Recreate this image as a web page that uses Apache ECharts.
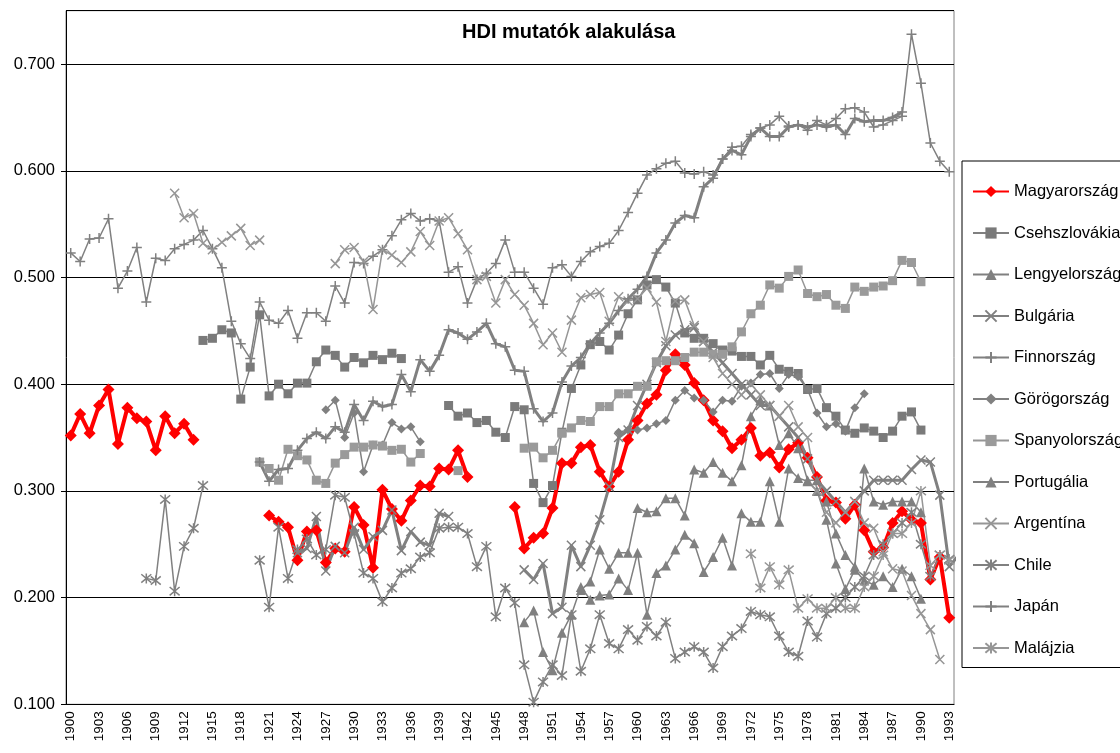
<!DOCTYPE html>
<html>
<head>
<meta charset="utf-8">
<script src="https://cdn.jsdelivr.net/npm/echarts@6/dist/echarts.min.js"></script>
<style>
  html, body { margin: 0; padding: 0; background: #fff; }
  #chart { width: 1120px; height: 753px; }
</style>
</head>
<body>
<div id="chart"></div>
<script>
// Years on the category axis
const years = [];
for (let y = 1900; y <= 1993; y++) years.push(String(y));

// Place a run of yearly values starting at a given year (null = no data)
function fromYear(start, vals) {
  const a = new Array(years.length).fill(null);
  vals.forEach((v, i) => { a[start - 1900 + i] = v; });
  return a;
}
const N = null;

const magyarorszag = fromYear(1900, [
  0.352,0.372,0.354,0.380,0.395,0.344,0.378,0.368,0.365,0.338,0.370,0.354,0.363,0.348,
  N,N,N,N,N,N,N,
  0.277,0.271,0.266,0.235,0.262,0.263,0.233,0.246,0.243,0.285,0.268,0.228,0.301,0.283,0.272,0.291,0.305,0.304,0.321,0.320,0.338,0.313,
  N,N,N,N,
  0.285,0.246,0.256,0.260,0.284,0.326,0.326,0.341,0.343,0.318,0.304,0.318,0.348,0.366,0.382,0.390,0.413,0.428,0.418,0.401,
  0.385,0.366,0.356,0.340,0.348,0.359,0.333,0.336,0.322,0.339,0.345,0.331,0.313,0.291,0.289,0.274,0.287,0.263,0.243,0.247,
  0.270,0.281,0.273,0.270,0.217,0.238,0.181
]);

const csehszlovakia = fromYear(1914, [
  0.441,0.443,0.451,0.448,0.386,0.416,0.465,0.389,0.400,0.391,0.401,0.401,0.421,0.432,0.427,0.416,0.425,0.420,0.427,0.423,0.429,0.424,
  N,N,N,N,
  0.380,0.370,0.373,0.364,0.366,0.355,0.350,0.379,0.376,0.307,0.289,0.305,
  0.355,0.396,0.418,0.437,0.440,0.432,0.446,0.466,0.479,0.493,0.498,0.491,0.476,0.448,0.443,0.443,0.438,0.432,0.431,0.426,
  0.426,0.418,0.427,0.414,0.412,0.410,0.395,0.396,0.378,0.370,0.357,0.354,0.359,0.356,0.350,0.356,0.370,0.374,0.357
]);

const lengyelorszag = fromYear(1954, [
  0.207,0.215,0.245,0.227,0.242,0.242,0.284,0.280,0.281,0.293,0.293,0.277,0.320,0.317,0.327,0.317,0.309,0.324,
  0.370,0.385,0.380,0.343,0.354,0.340,0.310,0.310,0.290,0.260,0.240,0.229,0.321,0.290,0.287,0.290,0.290,0.290,0.280
]);

const bulgaria = fromYear(1924, [
  0.242,0.246,0.276,0.225,0.248,0.242,0.266,0.245,0.257,0.263,0.282,0.244,0.262,0.252,0.249,0.279,0.276,
  N,N,N,N,N,N,N,
  0.226,0.217,0.232,0.185,0.191,0.249,0.229,0.249,0.273,0.304,0.350,0.357,0.380,0.400,0.420,0.436,0.446,0.451,0.453,0.440,
  0.430,0.420,0.410,0.400,0.390,0.380,0.380,0.370,0.360,0.350,0.330,0.310,0.300,0.290,0.280,0.290,0.300,0.310,0.310,0.310,
  0.310,0.320,0.329,0.327,0.296,0.229,0.240,0.232
]);

const finnorszag = fromYear(1900, [
  0.523,0.515,0.536,0.537,0.555,0.490,0.506,0.528,0.477,0.518,0.516,0.527,0.531,0.535,0.544,0.527,0.509,0.459,0.438,0.424,
  0.477,0.460,0.457,0.469,0.443,0.467,0.467,0.459,0.492,0.476,0.514,0.513,0.520,0.526,0.539,0.554,0.560,0.553,0.555,0.553,
  0.505,0.510,0.476,0.498,0.504,0.513,0.535,0.505,0.505,0.490,0.475,0.509,0.512,0.501,0.515,0.524,0.529,0.532,0.544,0.561,
  0.579,0.596,0.602,0.607,0.609,0.598,0.597,0.599,0.596,0.611,0.622,0.623,0.634,0.640,0.643,0.651,0.642,0.643,0.638,0.647,
  0.643,0.649,0.658,0.659,0.655,0.641,0.643,0.647,0.651,0.728,0.682,0.626,0.609,0.599
]);

const gorogorszag = fromYear(1927, [
  0.376,0.385,0.350,0.373,0.318,0.343,0.343,0.364,0.358,0.360,0.346,
  N,N,N,N,N,N,N,N,N,N,N,N,N,N,N,N,N,N,N,N,
  0.355,0.357,0.357,0.359,0.363,0.366,0.385,0.394,0.387,0.385,0.374,0.385,0.384,0.398,0.401,0.409,0.410,0.396,0.409,0.407,
  0.395,0.373,0.360,0.363,0.356,0.378,0.391
]);

const spanyolorszag = fromYear(1920, [
  0.327,0.321,0.310,0.339,0.333,0.329,0.310,0.307,0.326,0.334,0.341,0.341,0.343,0.342,0.338,0.339,0.327,0.335,
  N,N,N,0.319,N,N,N,N,N,N,
  0.340,0.341,0.331,0.338,0.354,0.359,0.366,0.365,0.379,0.379,0.391,0.391,0.398,0.398,0.421,0.422,0.422,0.425,0.430,0.430,
  0.428,0.428,0.435,0.449,0.466,0.474,0.493,0.490,0.501,0.507,0.485,0.482,0.484,0.474,0.471,0.491,0.487,0.491,0.492,0.497,
  0.516,0.514,0.496
]);

const portugalia = fromYear(1948, [
  0.177,0.188,0.149,0.132,0.167,0.184,0.210,0.198,0.202,0.203,0.218,0.207,0.242,0.184,0.223,0.230,0.245,0.259,0.251,0.224,
  0.238,0.256,0.230,0.279,0.271,0.271,0.309,0.271,0.321,0.312,0.309,0.300,0.273,0.232,0.208,0.226,0.216,0.212,0.220,0.210,
  0.227,0.220,0.199
]);

const argentina = fromYear(1911, [
  0.579,0.556,0.560,0.532,0.526,0.533,0.539,0.546,0.530,0.535,
  N,N,N,N,N,N,N,
  0.513,0.526,0.528,0.515,0.470,0.526,0.521,0.514,0.524,0.543,0.530,0.553,0.556,0.541,0.526,0.498,0.501,0.476,0.498,0.484,0.474,
  0.457,0.437,0.448,0.430,0.460,0.481,0.484,0.486,0.459,0.482,0.478,0.480,0.490,0.477,0.440,0.478,0.479,0.455,0.440,0.425,
  0.410,0.400,0.390,0.400,0.390,0.380,0.370,0.380,0.360,0.350,0.300,0.280,0.270,0.280,0.290,0.270,0.265,0.243,0.227,0.225,
  0.202,0.185,0.170,0.142
]);

const chile = fromYear(1908, [
  0.218,0.216,0.292,0.206,0.248,0.265,0.305,
  N,N,N,N,N,
  0.235,0.191,0.266,0.218,0.245,0.255,0.240,0.245,0.296,0.294,0.260,0.223,0.218,0.196,0.209,0.223,0.227,0.238,0.242,0.265,
  0.266,0.266,0.260,0.229,0.248,0.182,0.209,0.195,0.137,0.102,0.121,0.137,0.127,0.184,0.131,0.152,0.184,0.157,0.152,0.170,
  0.160,0.173,0.164,0.177,0.143,0.149,0.154,0.149,0.134,0.154,0.164,0.171,0.187,0.184,0.182,0.164,0.149,0.145,0.178,0.163,
  0.185,0.190,0.200,0.210,0.220,0.240,0.250,0.260,0.270,0.280,0.250,0.220,0.240,0.236
]);

const japan = fromYear(1920, [
  0.327,0.309,0.320,0.321,0.338,0.349,0.355,0.349,0.360,0.355,0.381,0.366,0.384,0.379,0.381,0.409,0.393,0.423,0.412,0.427,
  0.451,0.448,0.442,0.449,0.457,0.438,0.435,0.413,0.412,0.377,0.365,0.373,0.402,0.417,0.425,0.438,0.448,0.457,0.469,0.480,
  0.489,0.501,0.523,0.535,0.551,0.558,0.556,0.585,0.593,0.611,0.619,0.615,0.632,0.640,0.632,0.632,0.641,0.643,0.641,0.643,
  0.641,0.643,0.634,0.649,0.646,0.647,0.647,0.650,0.655
]);

const malajzia = fromYear(1972, [
  0.241,0.209,0.229,0.212,0.226,0.190,0.199,0.190,0.190,0.200,0.190,0.190,0.210,0.220,0.240,0.260,0.260,0.270,0.300,0.230,
  0.240,0.235
]);

const yTicks = { min: 0.1, max: 0.75, step: 0.1 };

const GRAY = '#808080';
const LIGHT = '#969696';
const PLUS = 'path://M5,0V10M0,5H10';
const CROSS = 'path://M0,0L10,10M10,0L0,10';
const STAR = 'path://M0,0L10,10M10,0L0,10M5,-1V11';

function filled(name, data, symbol, size, color, width, markColor) {
  return {
    name, type: 'line', data, symbol, symbolSize: size, showAllSymbol: true,
    lineStyle: { color, width },
    itemStyle: { color: markColor || color, borderWidth: 0 },
    connectNulls: false, animation: false
  };
}
function stroked(name, data, symbol, size, color, width, markWidth) {
  return {
    name, type: 'line', data, symbol, symbolSize: size, showAllSymbol: true,
    lineStyle: { color, width },
    itemStyle: { color: 'none', borderColor: color, borderWidth: markWidth },
    connectNulls: false, animation: false
  };
}

const series = [
  filled('Magyarország', magyarorszag, 'diamond', 12, '#ff0000', 4),
  filled('Csehszlovákia', csehszlovakia, 'rect', 9, GRAY, 1.5, '#7a7a7a'),
  filled('Lengyelország', lengyelorszag, 'triangle', 10, GRAY, 1.5),
  stroked('Bulgária', bulgaria, CROSS, 9, GRAY, 3, 1.5),
  stroked('Finnország', finnorszag, PLUS, 10, GRAY, 1.5, 1.5),
  filled('Görögország', gorogorszag, 'diamond', 9, GRAY, 1.5),
  filled('Spanyolország', spanyolorszag, 'rect', 9, LIGHT, 1.5, '#9a9a9a'),
  filled('Portugália', portugalia, 'triangle', 10, GRAY, 1.5),
  stroked('Argentína', argentina, CROSS, 9, LIGHT, 1.5, 1.5),
  stroked('Chile', chile, STAR, 10, GRAY, 1.5, 1.5),
  stroked('Japán', japan, PLUS, 10, GRAY, 3, 1.5),
  stroked('Malájzia', malajzia, STAR, 10, LIGHT, 1.5, 1.5)
];

const chart = echarts.init(document.getElementById('chart'), null, { renderer: 'canvas' });
chart.setOption({
  animation: false,
  backgroundColor: '#ffffff',
  textStyle: { fontFamily: 'Liberation Sans, Arial, sans-serif' },
  title: {
    text: 'HDI mutatók alakulása',
    left: 457, top: 17,
    textStyle: { fontSize: 20, fontWeight: 'bold', color: '#000', fontFamily: 'Liberation Sans, Arial, sans-serif' }
  },
  grid: {
    left: 66, right: 166, top: 10.7, bottom: 48.7,
    show: true, borderColor: GRAY, borderWidth: 1, backgroundColor: '#fff'
  },
  legend: {
    orient: 'vertical', left: 962, top: 161,
    padding: [22, 10, 11, 10],
    itemWidth: 36, itemHeight: 14, itemGap: 24.5,
    borderColor: '#000', borderWidth: 1,
    textStyle: { fontSize: 16.5, lineHeight: 16, color: '#000', fontFamily: 'Liberation Sans, Arial, sans-serif' },
    data: series.map(s => s.name)
  },
  xAxis: {
    type: 'category', data: years, boundaryGap: true,
    axisLine: { lineStyle: { color: '#000', width: 1 } },
    axisTick: { interval: 0, length: 5, lineStyle: { color: '#000' } },
    axisLabel: { interval: 2, rotate: 90, margin: 7, fontSize: 13.5, color: '#000' },
    splitLine: { show: false }
  },
  yAxis: {
    type: 'value', min: yTicks.min, max: yTicks.max, interval: yTicks.step,
    axisLine: { show: true, lineStyle: { color: '#000', width: 1 } },
    axisTick: { show: true, length: 5, lineStyle: { color: '#000' } },
    axisLabel: { fontSize: 16.5, color: '#000', margin: 11, showMaxLabel: false,
      formatter: v => v.toFixed(3) },
    splitLine: { show: true, lineStyle: { color: '#000', width: 1 } }
  },
  series
});
</script>
</body>
</html>
